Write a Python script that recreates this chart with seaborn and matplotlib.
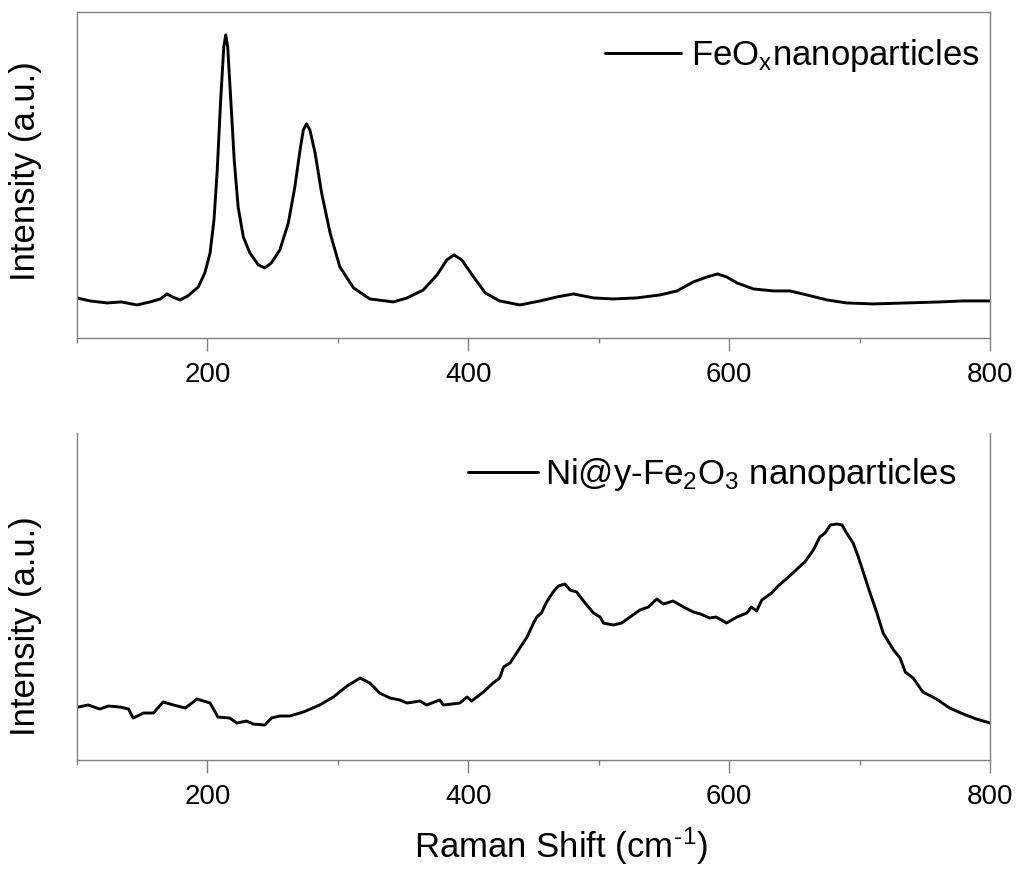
import matplotlib
matplotlib.use("Agg")
import matplotlib.pyplot as plt
import seaborn as sns

sns.set_style("white")
plt.rcParams["font.family"] = ["Liberation Sans", "DejaVu Sans"]
plt.rcParams["mathtext.default"] = "regular"
plt.rcParams["text.color"] = "black"
plt.rcParams["axes.labelcolor"] = "black"
plt.rcParams["xtick.labelcolor"] = "black"

# ---- FeOx nanoparticles (top) ----
feox_shift = [100, 110, 123, 134, 146, 156, 164, 169, 173, 179, 185, 193, 198, 202, 205,
              207.5, 210, 212.5, 214, 215.5, 218, 220.5, 223.5, 227.5, 232.5, 239, 244, 249,
              255.5, 262, 267, 271, 273.5, 276, 278.5, 282.5, 287.5, 294, 301.5, 312, 324.5,
              342.5, 353, 365.5, 376, 383.5, 389, 395, 404, 413, 424, 439.5, 455, 468, 480.5,
              496, 511, 529, 547, 560, 572.5, 583, 591, 598, 606, 618.5, 634, 646.5, 659.5,
              675, 690, 710.5, 736, 761.5, 779.5, 800]
feox_int = [40, 37, 35, 36, 33, 36, 39, 44, 41, 38, 42, 51, 65, 85, 118,
            168, 235, 291, 303, 291, 235, 178, 131, 101, 85, 73, 70, 75,
            88, 115, 151, 188, 208, 214, 208, 185, 145, 105, 71, 50, 39,
            36, 40, 48, 63, 78, 83, 78, 61, 45, 37, 33, 37, 41, 44,
            40, 39, 40, 43, 47, 56, 61, 64, 61, 55, 49, 47, 47, 43,
            38, 35, 34, 35, 36, 37, 37]

# ---- Ni@y-Fe2O3 nanoparticles (bottom) ----
ni_shift = [101, 108.5, 117.5, 124, 133, 139.5, 143, 151, 158.5, 166, 174, 183, 192, 202, 208,
            217, 222.5, 230, 235, 244, 249, 255.5, 263, 273.5, 286, 296.5, 307, 317, 324.5,
            332, 340, 347.5, 353, 363, 368, 378, 381, 393.5, 399, 402.5, 411.5, 419, 424, 427,
            432, 438.5, 445, 450, 452.5, 456, 460, 465, 469, 474, 478, 483, 489.5, 496, 501,
            503.5, 511, 517.5, 524, 531.5, 538, 544.5, 549.5, 557, 565, 572.5, 578, 585, 590,
            598, 606, 613.5, 617, 621, 625, 632.5, 637.5, 645.5, 652, 658, 664.5, 669.5, 673.5,
            677.5, 682.5, 686.5, 690, 695, 699, 703, 708, 713, 718, 726, 731, 735, 741, 748.5,
            759, 769, 779.5, 789.5, 800]
ni_int = [53, 55, 51, 54, 53, 51, 42, 47, 47, 58, 55, 52, 61, 57, 43,
          42, 37, 39, 36, 35, 42, 44, 44, 48, 55, 63, 74, 82, 77,
          67, 62, 60, 57, 59, 55, 60, 55, 57, 63, 59, 68, 77, 82, 93,
          97, 110, 123, 137, 143, 147, 158, 168, 174, 176, 170, 168, 157, 147, 143,
          137, 135, 137, 143, 150, 153, 161, 156, 159, 153, 148, 146, 142, 143,
          137, 143, 147, 153, 149, 160, 167, 174, 183, 191, 198, 210, 223, 227,
          235, 236, 235, 227, 217, 203, 187, 167, 148, 127, 110, 102, 88, 82, 68,
          61, 52, 46, 41, 37]

labels = [r"FeO$_x$nanoparticles", r"Ni@y-Fe$_2$O$_3$ nanoparticles"]

fig = plt.figure(figsize=(10.19, 8.71), dpi=100)
ax1 = fig.add_axes([0.0756, 0.612, 0.896, 0.3744])
ax2 = fig.add_axes([0.0756, 0.1274, 0.896, 0.3755])

sns.lineplot(x=feox_shift, y=feox_int, ax=ax1, color="black", lw=2.1, label=labels[0])
sns.lineplot(x=ni_shift, y=ni_int, ax=ax2, color="black", lw=2.1, label=labels[1])

for ax in (ax1, ax2):
    ax.set_xlim(100, 800)
    ax.set_xticks([200, 400, 600, 800])
    ax.set_xticks([100, 300, 500, 700], minor=True)
    ax.set_yticks([])
    ax.tick_params(axis="x", which="major", direction="out", length=9.5, width=1,
                   color="#808080", labelsize=20, labelcolor="black", pad=8, bottom=True)
    ax.tick_params(axis="x", which="minor", direction="out", length=3.6, width=1,
                   color="#808080", bottom=True)
    for s in ax.spines.values():
        s.set_color("#808080")
        s.set_linewidth(1)
    ax.set_ylabel("Intensity (a.u.)", fontsize=25, color="black")

ax1.set_ylim(0, 326)
ax2.set_ylim(0, 327)
ax2.spines["top"].set_visible(False)

ax1.yaxis.set_label_coords(-0.038, 0.512)
ax2.yaxis.set_label_coords(-0.038, 0.41)

ax1.legend(loc="upper right", bbox_to_anchor=(1.004, 0.966), frameon=False, fontsize=25,
           handlelength=2.2, handletextpad=0.3, borderaxespad=0)
ax2.legend(loc="upper right", bbox_to_anchor=(0.978, 0.972), frameon=False, fontsize=25,
           handlelength=2.0, handletextpad=0.2, borderaxespad=0)

ax1.set_xlabel("")
ax2.set_xlabel("Raman Shift (cm$^{\u2010}$$^{1}$)", fontsize=25, color="black")
ax2.xaxis.set_label_coords(0.53, -0.2)

fig.savefig("out.png", dpi=100)
